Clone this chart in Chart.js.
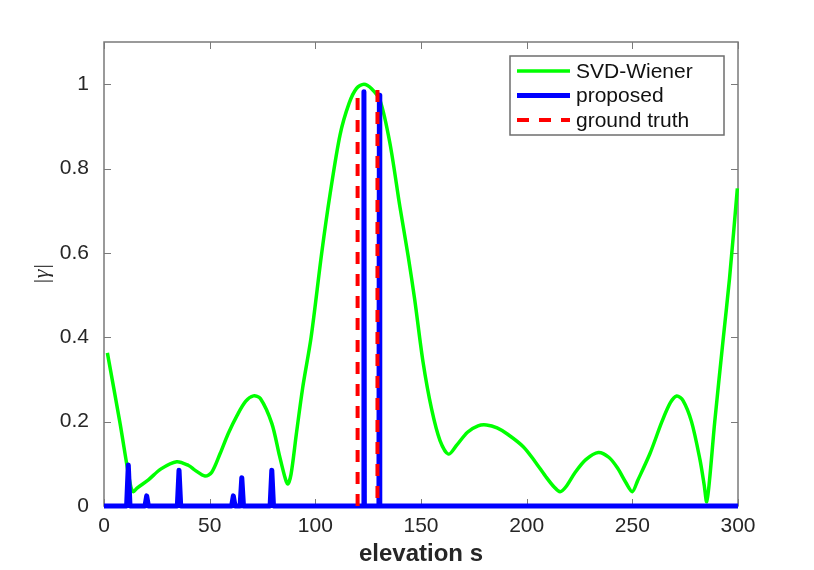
<!DOCTYPE html>
<html>
<head>
<meta charset="utf-8">
<script src="https://cdn.jsdelivr.net/npm/chart.js@4/dist/chart.umd.min.js"></script>
<style>
  body { margin: 0; background: #fff; }
  #wrap { width: 814px; height: 570px; }
</style>
</head>
<body>
<div id="wrap"><canvas id="graphCanvas" width="814" height="570"></canvas></div>
<script>
// values
const wienerX = [1.6, 7.6, 12.5, 13.9, 15.5, 21, 27, 34.4, 40, 43, 47.8, 51, 55, 58.8, 63, 67, 70.7, 74, 79.4, 83, 85.5, 86.9,
  88.5, 91, 94, 98, 103, 107, 111.7, 116, 119.5, 123, 126.5, 130.6, 135.3, 140, 144, 147, 151, 155, 159, 163, 167, 172, 177,
  181, 186, 191, 198.5, 204, 209, 213, 215.8, 218.5, 223, 228, 233.9, 239, 243, 247, 250, 252.5, 258.4, 264, 268, 271, 274,
  278, 282, 284, 285.2, 286.5, 289, 293.1, 296, 299.7];
const wienerY = [0.363, 0.196, 0.05, 0.034, 0.042, 0.062, 0.088, 0.105, 0.096, 0.085, 0.071, 0.08, 0.125, 0.172, 0.215, 0.248, 0.261, 0.255, 0.196, 0.12, 0.07, 0.052,
  0.075, 0.17, 0.28, 0.4, 0.599, 0.74, 0.88, 0.955, 0.99, 1.0, 0.99, 0.962, 0.86, 0.71, 0.59, 0.49, 0.34, 0.23, 0.155, 0.123, 0.145, 0.175, 0.19,
  0.192, 0.185, 0.17, 0.14, 0.105, 0.07, 0.045, 0.034, 0.045, 0.08, 0.11, 0.127, 0.115, 0.09, 0.055, 0.034, 0.06, 0.125, 0.2, 0.245, 0.261, 0.25,
  0.2, 0.11, 0.05, 0.01, 0.06, 0.2, 0.401, 0.54, 0.753];

const proposedX = [0, 10.7, 11.5, 12.3, 19.4, 20.2, 21, 34.7, 35.5, 36.3, 60.4, 61.2, 62, 64.4, 65.2, 66, 78.6, 79.4, 80.2,
  122.8, 123, 123.2, 130.1, 130.3, 130.5, 300];
const proposedY = [0, 0, 0.097, 0, 0, 0.024, 0, 0, 0.085, 0, 0, 0.024, 0, 0, 0.067, 0, 0, 0.085, 0,
  0, 0.982, 0, 0, 0.974, 0, 0];

const truthX = [120, 120, 124.7, 129.4, 129.4];
const truthY = [0, 0.986, null, 0.986, 0];

const xTicks = [0, 50, 100, 150, 200, 250, 300];
const yTicks = [0, 0.2, 0.4, 0.6, 0.8, 1];

const seriesNames = ['SVD-Wiener', 'proposed', 'ground truth'];

const toPoints = (xs, ys) => xs.map((x, i) => ({ x: x, y: ys[i] }));

const fontFamily = '"Liberation Sans", Arial, Helvetica, sans-serif';
const axisGray = '#7a7a7a';

// box round the axes, inward tick marks, legend inside the plot
const boxPlugin = {
  id: 'matlabBox',
  beforeDatasetsDraw(chart) {
    const { ctx, chartArea: a, scales } = chart;
    ctx.save();
    ctx.strokeStyle = axisGray;
    ctx.lineWidth = 1.5;
    ctx.strokeRect(a.left, a.top, a.right - a.left, a.bottom - a.top);
    ctx.lineWidth = 1;
    ctx.beginPath();
    xTicks.forEach(v => {
      const px = Math.round(scales.x.getPixelForValue(v)) + 0.5;
      ctx.moveTo(px, a.bottom); ctx.lineTo(px, a.bottom - 7);
      ctx.moveTo(px, a.top); ctx.lineTo(px, a.top + 7);
    });
    yTicks.forEach(v => {
      const py = Math.round(scales.y.getPixelForValue(v)) + 0.5;
      ctx.moveTo(a.left, py); ctx.lineTo(a.left + 7, py);
      ctx.moveTo(a.right, py); ctx.lineTo(a.right - 7, py);
    });
    ctx.stroke();
    ctx.restore();
  },
  afterDatasetsDraw(chart) {
    const { ctx, chartArea: a } = chart;
    const w = 214, h = 79;
    const left = a.right - 14 - w, top = a.top + 14;
    ctx.save();
    ctx.fillStyle = '#fff';
    ctx.fillRect(left, top, w, h);
    ctx.strokeStyle = '#6e6e6e';
    ctx.lineWidth = 1.5;
    ctx.strokeRect(left, top, w, h);
    chart.data.datasets.forEach((ds, i) => {
      const y = top + 15 + i * 24.5;
      ctx.beginPath();
      ctx.strokeStyle = ds.borderColor;
      ctx.lineWidth = ds.borderWidth;
      ctx.setLineDash(ds.borderDash || []);
      ctx.moveTo(left + 7, y);
      ctx.lineTo(left + 60, y);
      ctx.stroke();
      ctx.setLineDash([]);
      ctx.fillStyle = '#111';
      ctx.font = '21px ' + fontFamily;
      ctx.textBaseline = 'middle';
      ctx.fillText(ds.label, left + 66, y + 1);
    });
    ctx.restore();
  }
};

const ctx = document.getElementById('graphCanvas').getContext('2d');
const chart = new Chart(ctx, {
  type: 'line',
  data: {
    datasets: [{
      label: seriesNames[0],
      data: toPoints(wienerX, wienerY),
      borderColor: '#00ff00',
      borderWidth: 3.5,
      pointRadius: 0,
      tension: 0.3,
      clip: false,
      order: 3
    }, {
      label: seriesNames[1],
      data: toPoints(proposedX, proposedY),
      borderColor: '#0000ff',
      borderWidth: 5,
      borderJoinStyle: 'round',
      pointRadius: 0,
      tension: 0,
      clip: false,
      order: 2
    }, {
      label: seriesNames[2],
      data: toPoints(truthX, truthY),
      borderColor: '#ff0000',
      borderWidth: 4,
      borderDash: [12, 10],
      pointRadius: 0,
      tension: 0,
      spanGaps: false,
      clip: false,
      order: 1
    }]
  },
  options: {
    responsive: false,
    animation: false,
    layout: { padding: { left: 0, top: 42, right: 76, bottom: 0 } },
    scales: {
      x: {
        type: 'linear',
        min: 0,
        max: 300,
        grid: { display: false, drawTicks: false },
        border: { display: false },
        afterBuildTicks: s => { s.ticks = xTicks.map(v => ({ value: v })); },
        afterFit: s => { s.height = 64; },
        ticks: {
          padding: 8,
          color: '#262626',
          font: { family: fontFamily, size: 21 },
          callback: v => String(v)
        },
        title: {
          display: true,
          text: 'elevation s',
          color: '#262626',
          font: { family: fontFamily, size: 24, weight: 'bold' },
          padding: { top: 0, bottom: 1 }
        }
      },
      y: {
        min: 0,
        max: 1.1,
        grid: { display: false, drawTicks: false },
        border: { display: false },
        afterBuildTicks: s => { s.ticks = yTicks.map(v => ({ value: v })); },
        afterFit: s => { s.width = 104; },
        ticks: {
          padding: 15,
          color: '#262626',
          font: { family: fontFamily, size: 21 },
          callback: v => String(v)
        },
        title: {
          display: true,
          text: '|γ|',
          color: '#262626',
          font: { family: '"Liberation Serif", "Times New Roman", serif', size: 22, style: 'italic' },
          padding: { top: 29, bottom: 0 }
        }
      }
    },
    plugins: {
      legend: { display: false },
      tooltip: { enabled: false }
    }
  },
  plugins: [boxPlugin]
});
</script>
</body>
</html>
